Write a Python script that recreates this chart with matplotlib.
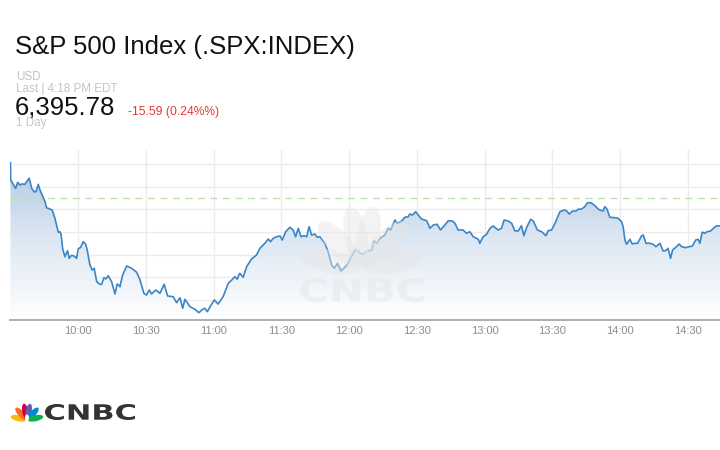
import numpy as np
import matplotlib
matplotlib.use("Agg")
import matplotlib.pyplot as plt
from matplotlib.patches import Ellipse, PathPatch
from matplotlib.textpath import TextPath
from matplotlib.font_manager import FontProperties
from matplotlib.transforms import Affine2D
from matplotlib.colors import LinearSegmentedColormap

plt.rcParams['font.family'] = ['Liberation Sans', 'DejaVu Sans']

# minutes after 9:30 and index level
minutes = [0, 0.1, 1.2, 2.3, 3.2, 4.2, 5.0, 6.4, 7.9, 8.3, 9.4, 10.5, 11.3, 12.3, 13.1, 14.5,
           15.3, 16.0, 17.5, 18.5, 19.7, 21.2, 21.9, 22.4, 23.1, 24.1, 25.3, 26.0, 27.1, 28.1,
           29.3, 30.0, 31.1, 32.2, 33.3, 34.0, 35.2, 36.2, 37.1, 38.2, 39.6, 40.4, 41.4, 42.3,
           43.3, 44.8, 46.3, 47.3, 48.2, 48.5, 49.7, 51.5, 53.7, 55.9, 57.4, 59.1, 60.3, 61.5,
           62.5, 64.4, 66.2, 68.1, 69.6, 72.1, 73.6, 75.1, 76.3, 77.3, 79.5, 81.7, 83.5, 84.7,
           86.1, 87.2, 88.7, 90.3, 92.0, 94.2, 96.5, 98.0, 99.4, 100.4, 101.3, 101.6, 103.1,
           104.6, 106.8, 109.0, 110.5, 112.7, 114.2, 115.2, 116.4, 117.9, 119.4, 120.4, 121.9,
           123.8, 125.2, 126.3, 127.5, 128.7, 130.0, 131.2, 132.3, 133.4, 134.9, 135.9, 137.1,
           139.3, 140.7, 142.3, 143.4, 144.9, 146.4, 148.1, 149.6, 150.8, 152.6, 154.0, 154.8,
           156.2, 157.8, 160.0, 161.0, 162.2, 163.7, 165.9, 167.3, 168.4, 170.3, 171.3, 173.3,
           174.7, 176.2, 176.9, 178.1, 179.5, 180.6, 182.1, 184.4, 185.8, 187.3, 189.0, 190.5,
           192.4, 193.9, 195.8, 196.9, 198.3, 200.5, 202.0, 203.5, 205.0, 207.2, 207.9, 209.4,
           210.9, 212.4, 213.8, 216.0, 217.5, 218.7, 220.5, 222.0, 223.4, 224.9, 226.4, 227.4,
           228.6, 230.4, 231.6, 233.4, 235.3, 237.2, 238.2, 239.7, 241.2, 243.4, 245.3, 246.3,
           247.5, 249.0, 250.4, 251.5, 253.0, 254.4, 255.6, 257.1, 258.9, 260.3, 261.1, 262.5,
           263.3, 264.3, 265.5, 267.7, 269.2, 270.7, 271.4, 272.2, 272.9, 274.4, 275.4, 276.6,
           277.8, 279.6, 280.3, 281.5, 283.2, 284.7, 285.9, 287.7, 289.1, 290.2, 291.3, 292.4,
           293.3, 294.7, 296.2, 297.3, 299.1, 300.6, 302.1, 303.5, 304.6, 305.4, 306.4, 307.6,
           308.6, 310.1, 311.7, 312.8, 314.3]
prices = [6419.21, 6415.40, 6414.50, 6413.57, 6414.89, 6414.30, 6414.52, 6414.45, 6415.56,
          6415.78, 6413.57, 6412.82, 6412.82, 6414.45, 6413.20, 6411.59, 6410.62, 6409.30,
          6409.01, 6408.79, 6406.96, 6403.88, 6404.01, 6403.50, 6400.36, 6398.50, 6399.83,
          6398.15, 6398.81, 6398.66, 6398.15, 6400.20, 6400.58, 6401.81, 6401.30, 6399.98,
          6396.68, 6395.57, 6395.95, 6393.00, 6392.42, 6392.42, 6393.88, 6393.59, 6394.32,
          6393.00, 6390.29, 6392.49, 6392.12, 6391.90, 6394.47, 6396.46, 6395.95, 6395.07,
          6393.37, 6390.44, 6390.07, 6391.17, 6390.29, 6391.17, 6390.44, 6392.42, 6389.85,
          6389.69, 6388.37, 6389.47, 6387.14, 6389.12, 6387.49, 6386.92, 6386.17, 6386.76,
          6387.14, 6386.39, 6387.71, 6388.97, 6388.08, 6389.69, 6392.64, 6393.37, 6394.10,
          6393.53, 6394.63, 6394.85, 6393.97, 6396.30, 6398.00, 6398.88, 6400.36, 6401.46,
          6402.40, 6401.81, 6402.56, 6402.91, 6403.06, 6402.18, 6404.01, 6404.98, 6404.39,
          6402.91, 6404.76, 6402.91, 6403.13, 6402.91, 6405.11, 6403.28, 6403.50, 6402.78,
          6402.91, 6401.46, 6399.61, 6396.68, 6395.95, 6397.05, 6395.35, 6396.17, 6397.05,
          6398.28, 6399.98, 6399.76, 6399.25, 6399.03, 6399.61, 6399.98, 6402.03, 6401.46,
          6402.56, 6403.29, 6404.76, 6404.39, 6406.59, 6405.86, 6406.37, 6407.18, 6407.32,
          6407.91, 6407.69, 6408.42, 6407.69, 6406.81, 6406.43, 6404.76, 6405.49, 6405.64,
          6404.39, 6405.49, 6406.43, 6406.37, 6405.86, 6404.39, 6404.39, 6403.66, 6404.01,
          6402.91, 6402.34, 6401.46, 6402.91, 6403.44, 6404.76, 6405.27, 6404.39, 6404.76,
          6406.59, 6406.37, 6405.86, 6404.23, 6404.17, 6405.33, 6403.13, 6404.89, 6406.74,
          6406.37, 6404.39, 6404.01, 6403.13, 6404.23, 6404.39, 6405.86, 6408.42, 6408.79,
          6408.64, 6407.91, 6408.57, 6408.57, 6408.95, 6409.01, 6409.52, 6410.40, 6410.40,
          6409.74, 6409.01, 6408.79, 6408.57, 6409.52, 6408.95, 6407.18, 6407.10, 6406.96,
          6406.21, 6405.11, 6402.18, 6401.24, 6402.34, 6401.30, 6401.46, 6401.46, 6403.13,
          6403.28, 6401.46, 6401.46, 6401.24, 6400.71, 6401.46, 6399.76, 6399.83, 6400.36,
          6398.15, 6399.98, 6400.58, 6401.30, 6400.71, 6400.49, 6400.71, 6400.86, 6402.18,
          6402.34, 6401.46, 6403.91, 6403.66, 6404.01, 6404.17, 6404.89, 6405.33, 6405.27]

prev_close = 6411.37
last_price = "6,395.78"
change_text = "-15.59 (0.24%%)"
tick_minutes = [30, 60, 90, 120, 150, 180, 210, 240, 270, 300]
tick_labels = ["10:00", "10:30", "11:00", "11:30", "12:00", "12:30", "13:00", "13:30", "14:00", "14:30"]

W, H = 720, 450
fig = plt.figure(figsize=(7.2, 4.5), dpi=100)
fig.patch.set_facecolor("white")

def fx(px):
    return px / W

def fy(py):
    return 1 - py / H

# header texts
fig.text(fx(15), fy(54), "S&P 500 Index (.SPX:INDEX)", fontsize=18.5, color="#111111", va="baseline")
fig.text(fx(16), fy(80), "USD", fontsize=8.4, color="#c4c4c4", va="baseline")
fig.text(fx(16), fy(92.5), "Last | 4:18 PM EDT", fontsize=8.4, color="#c4c4c4", va="baseline")
fig.text(fx(15), fy(114.5), last_price, fontsize=18.5, color="#111111", va="baseline")
fig.text(fx(128), fy(114.5), change_text, fontsize=8.7, color="#e53935", va="baseline")
fig.text(fx(16), fy(126), "1 Day", fontsize=8.4, color="#c4c4c4", va="baseline")

# main chart
ax = fig.add_axes([fx(10), fy(320), fx(710), (320 - 150) / H])
x = np.array(minutes)
y = np.array(prices)
xlim = (-0.2, 314.3)
ylim = (6384.56, 6422.01)
ax.set_xlim(*xlim)
ax.set_ylim(*ylim)

# gradient area under the line
poly = ax.fill_between(x, y, ylim[0], color="none", lw=0)
grad = np.linspace(0, 1, 256).reshape(-1, 1)
cmap = LinearSegmentedColormap.from_list("fill", ["#ffffff", "#dbe6f2", "#a9c3e0"])
img = ax.imshow(grad, extent=[xlim[0], xlim[1], ylim[0], ylim[1]], origin="lower",
                aspect="auto", cmap=cmap, zorder=1)
img.set_clip_path(poly.get_paths()[0], transform=ax.transData)

ax.plot(x, y, color="#3c86c6", lw=1.2, zorder=3)
ax.axhline(prev_close, color="#bfe3b0", lw=1, dashes=(5, 4), zorder=2)

ax.set_yticks(6388.95 + 4.99 * np.arange(7))
ax.set_xticks(tick_minutes)
ax.set_xticklabels(tick_labels)
ax.grid(True, color="#ececec", lw=1, zorder=0)
ax.set_axisbelow(True)
ax.tick_params(axis="y", left=False, labelleft=False)
ax.tick_params(axis="x", length=0, pad=4, labelsize=8, labelcolor="#8c8c8c")
for s in ["top", "left", "right"]:
    ax.spines[s].set_visible(False)
ax.spines["bottom"].set_color("#a8a8a8")
ax.spines["bottom"].set_linewidth(1.3)

# overlay for watermark and logo (pixel coords, y up)
ov = fig.add_axes([0, 0, 1, 1], zorder=5)
ov.set_xlim(0, W)
ov.set_ylim(0, H)
ov.axis("off")
ov.patch.set_alpha(0)

def peacock(cx, cy, scale, colors, alpha=1.0):
    angles = [168, 133, 101, 79, 47, 12]
    for a, c in zip(angles, colors):
        r = np.radians(a)
        ox = cx + 0.5 * scale * np.cos(r)
        oy = cy + 0.5 * scale * np.sin(r)
        ov.add_patch(Ellipse((ox, oy), scale * 0.95, scale * 0.36, angle=a,
                             color=c, alpha=alpha, lw=0))

def word(text, x0, x1, y0, y1, color, alpha=1.0):
    tp = TextPath((0, 0), text, size=1, prop=FontProperties(family="DejaVu Sans", weight="bold"))
    ext = tp.get_extents()
    sx = (x1 - x0) / ext.width
    sy = (y1 - y0) / ext.height
    tr = Affine2D().translate(-ext.x0, -ext.y0).scale(sx, sy).translate(x0, y0)
    ov.add_patch(PathPatch(tr.transform_path(tp), color=color, alpha=alpha, lw=0))

# faint watermark in the chart
wm = "#e6e6e6"
peacock(362, H - 268, 64, [wm] * 6, alpha=0.45)
word("CNBC", 300, 424, H - 302, H - 278, wm, alpha=0.55)

# logo at the bottom
peacock(27, H - 420, 17, ["#fcb711", "#f37021", "#cc004c", "#6460aa", "#0089d0", "#0db14b"])
ov.add_patch(Ellipse((27, H - 418), 4, 7, color="white", lw=0))
word("CNBC", 45, 135, H - 420, H - 404, "#333333")

fig.savefig("out.png", dpi=100)
